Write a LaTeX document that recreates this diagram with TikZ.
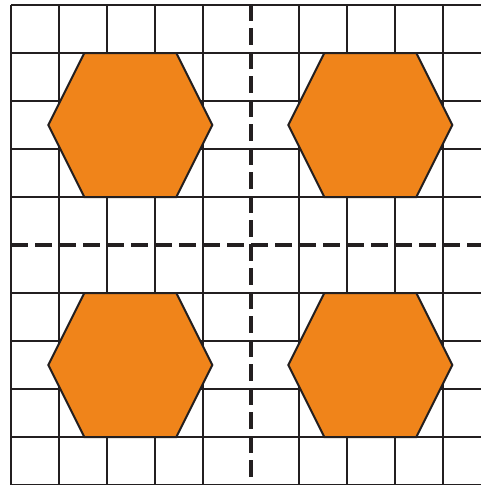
\documentclass[tikz,border=0pt]{standalone}
\definecolor{hexfill}{HTML}{F0841A}
\definecolor{ink}{HTML}{231F20}
\tikzset{
  gridline/.style={ink, line width=2.2pt},
  axisline/.style={ink, line width=4.6pt, dash pattern=on 17pt off 7pt},
  hexa/.style={fill=hexfill, draw=ink, line width=2pt, line join=miter},
}
\begin{document}
\begin{tikzpicture}[x=1pt,y=-1pt]
\useasboundingbox (0,0) rectangle (480,485);
% grid
\foreach \k in {0,...,9}{
  \pgfmathsetmacro\xx{11+48*\k}
  \ifnum\k=5\else
  \draw[gridline] (\xx,5) -- (\xx,486);
  \fi
}
\foreach \k in {0,...,10}{
  \pgfmathsetmacro\yy{5+48*\k}
  \ifnum\k=5\else
  \draw[gridline] (11,\yy) -- (481,\yy);
  \fi
}
% dashed axes
\draw[axisline] (251,4) -- (251,486);
\draw[axisline] (11,245) -- (481,245);
% hexagons
\foreach \cx/\cy in {130.3/125, 370.3/125, 130.3/365, 370.3/365}{
  \draw[hexa] (\cx-82,\cy) -- (\cx-46,\cy-72) -- (\cx+46,\cy-72) -- (\cx+82,\cy)
     -- (\cx+46,\cy+72) -- (\cx-46,\cy+72) -- cycle;
}
\end{tikzpicture}
\end{document}
